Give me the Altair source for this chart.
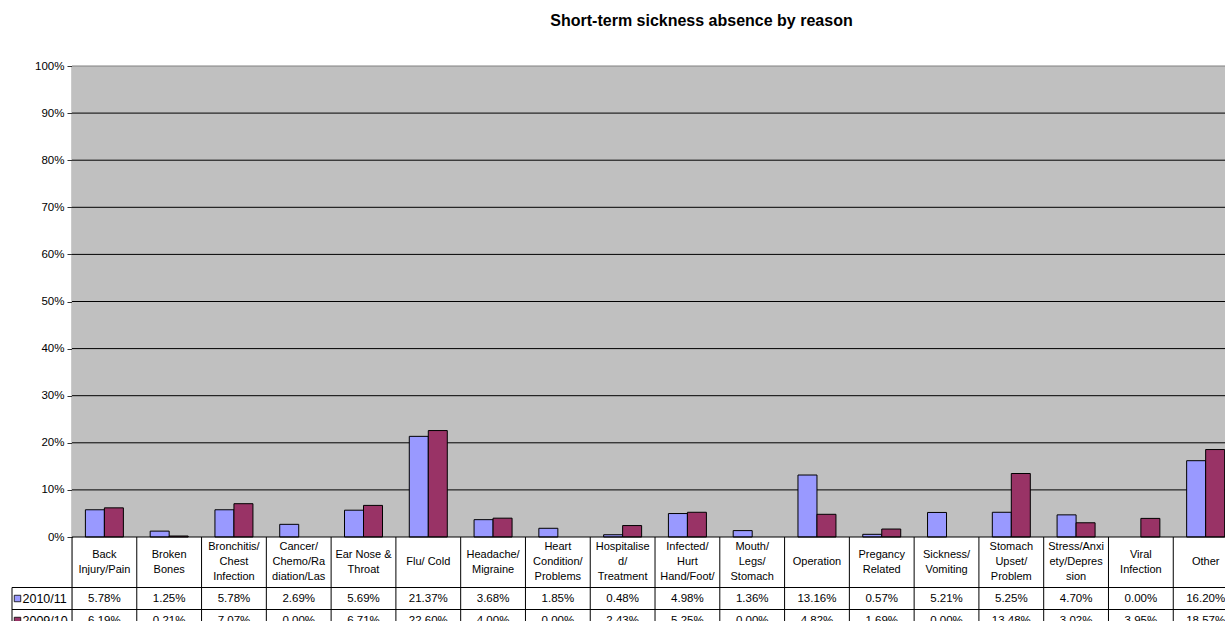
import altair as alt
import pandas as pd

# ---- data -------------------------------------------------------------
categories = [
    "Back\nInjury/Pain",
    "Broken\nBones",
    "Bronchitis/\nChest\nInfection",
    "Cancer/\nChemo/Ra\ndiation/Las",
    "Ear Nose &\nThroat",
    "Flu/ Cold",
    "Headache/\nMigraine",
    "Heart\nCondition/\nProblems",
    "Hospitalise\nd/\nTreatment",
    "Infected/\nHurt\nHand/Foot/",
    "Mouth/\nLegs/\nStomach",
    "Operation",
    "Pregancy\nRelated",
    "Sickness/\nVomiting",
    "Stomach\nUpset/\nProblem",
    "Stress/Anxi\nety/Depres\nsion",
    "Viral\nInfection",
    "Other",
]
series_names = ["2010/11", "2009/10"]
values_2010_11 = [5.78, 1.25, 5.78, 2.69, 5.69, 21.37, 3.68, 1.85, 0.48,
                  4.98, 1.36, 13.16, 0.57, 5.21, 5.25, 4.70, 0.00, 16.20]
values_2009_10 = [6.19, 0.21, 7.07, 0.00, 6.71, 22.60, 4.00, 0.00, 2.43,
                  5.25, 0.00, 4.82, 1.69, 0.00, 13.48, 3.02, 3.95, 18.57]
series_colors = ["#9999FF", "#993366"]
y_ticks = [i / 10 for i in range(11)]

# ---- layout -----------------------------------------------------------
FONT = "Liberation Sans"
PLOT_W = 1153          # visible part of the plot area
STEP = 64.78           # width of one category column
BAR_H = 471            # height of the bar panel
HEAD_H = 50.5          # header row of the data table
ROW_H = 22             # each series row of the data table
TABLE_H = HEAD_H + 2 * ROW_H
LEGEND_X = -60         # left edge of the legend column
LINE_H = 14.8          # line spacing of the wrapped header labels

row_y = {name: HEAD_H + ROW_H * (i + 0.5) for i, name in enumerate(series_names)}

records = []
for name, vals in zip(series_names, [values_2010_11, values_2009_10]):
    for cat, v in zip(categories, vals):
        records.append({"cat": cat, "series": name, "pct": v / 100, "row_y": row_y[name]})
df = pd.DataFrame(records)

# first-line position so that each wrapped header block is centred in its cell
cats_df = pd.DataFrame({
    "cat": categories,
    "head_y": [HEAD_H / 2 - (c.count("\n")) * LINE_H / 2 for c in categories],
})
series_df = pd.DataFrame({"series": series_names, "row_y": [row_y[s] for s in series_names]})
one = pd.DataFrame({"k": [0]})

x_scale = alt.Scale(domain=categories, range=[0, STEP * len(categories)],
                    paddingInner=0, paddingOuter=0)
y_bar = alt.Scale(domain=[0, 1], range=[BAR_H, 0], nice=False)
y_tab = alt.Scale(domain=[0, TABLE_H], range=[BAR_H, BAR_H + TABLE_H], nice=False)
color_scale = alt.Scale(domain=series_names, range=series_colors)

y_axis = alt.Axis(values=y_ticks, format=".0%", grid=False, title=None,
                  domainColor="#333333", domainWidth=1.5, tickColor="#333333",
                  tickSize=5, labelFont=FONT, labelFontSize=11.5, labelColor="black",
                  labelPadding=3)

# ---- bar panel --------------------------------------------------------
background = alt.Chart(one).mark_rect(color="#C0C0C0").encode(
    x=alt.value(0), x2=alt.value("width"),
    y=alt.YDatum(0, type="quantitative", scale=y_bar, axis=y_axis),
    y2=alt.Y2Datum(1),
)

gridlines = alt.Chart(pd.DataFrame({"t": y_ticks[1:-1]})).mark_rule(
    color="black", strokeWidth=1
).encode(
    x=alt.value(0), x2=alt.value("width"),
    y=alt.Y("t:Q", scale=y_bar, axis=y_axis),
)

top_border = alt.Chart(one).mark_rule(color="#808080", strokeWidth=1).encode(
    x=alt.value(0), x2=alt.value("width"),
    y=alt.YDatum(1, type="quantitative", scale=y_bar, axis=y_axis),
)

bars = alt.Chart(df).transform_filter("datum.pct > 0").mark_bar(
    stroke="black", strokeWidth=1
).encode(
    x=alt.X("cat:N", scale=x_scale, axis=None),
    xOffset=alt.XOffset("series:N", scale=alt.Scale(domain=series_names,
                                                    paddingInner=0, paddingOuter=0.705)),
    y=alt.Y("pct:Q", scale=y_bar, axis=y_axis),
    color=alt.Color("series:N", scale=color_scale, legend=None),
)

baseline = alt.Chart(one).mark_rule(color="black", strokeWidth=1).encode(
    x=alt.value(0), x2=alt.value("width"),
    y=alt.YDatum(0, type="quantitative", scale=y_bar, axis=y_axis),
)

bar_panel = alt.layer(background, gridlines, top_border, bars, baseline)

# ---- data table -------------------------------------------------------
col_lines = alt.Chart(cats_df).mark_rule(color="black", strokeWidth=1).encode(
    x=alt.X("cat:N", scale=x_scale, axis=None, bandPosition=0),
    y=alt.YDatum(0, type="quantitative", scale=y_tab, axis=None),
    y2=alt.Y2Datum(TABLE_H),
)

row_lines = alt.Chart(pd.DataFrame({"r": [HEAD_H, HEAD_H + ROW_H]})).mark_rule(
    color="black", strokeWidth=1
).encode(
    x=alt.value(LEGEND_X), x2=alt.value("width"),
    y=alt.Y("r:Q", scale=y_tab, axis=None),
)

legend_border = alt.Chart(one).mark_rule(color="black", strokeWidth=1).encode(
    x=alt.value(LEGEND_X),
    y=alt.YDatum(HEAD_H, type="quantitative", scale=y_tab, axis=None),
    y2=alt.Y2Datum(TABLE_H),
)

headers = alt.Chart(cats_df).mark_text(
    font=FONT, fontSize=11, lineBreak="\n", lineHeight=LINE_H,
    baseline="middle", align="center", color="black"
).encode(
    x=alt.X("cat:N", scale=x_scale, axis=None),
    y=alt.Y("head_y:Q", scale=y_tab, axis=None),
    text="cat:N",
)

cells = alt.Chart(df).mark_text(
    font=FONT, fontSize=11.5, baseline="middle", align="center", color="black"
).encode(
    x=alt.X("cat:N", scale=x_scale, axis=None),
    y=alt.Y("row_y:Q", scale=y_tab, axis=None),
    text=alt.Text("pct:Q", format=".2%"),
)

legend_keys = alt.Chart(series_df).mark_point(
    shape="square", filled=True, size=42, stroke="black", strokeWidth=0.8, opacity=1
).encode(
    x=alt.value(LEGEND_X + 5.5),
    y=alt.Y("row_y:Q", scale=y_tab, axis=None),
    fill=alt.Fill("series:N", scale=color_scale, legend=None),
)

legend_text = alt.Chart(series_df).mark_text(
    font=FONT, fontSize=12.5, baseline="middle", align="left", color="black"
).encode(
    x=alt.value(LEGEND_X + 10.5),
    y=alt.Y("row_y:Q", scale=y_tab, axis=None),
    text="series:N",
)

table_panel = alt.layer(col_lines, row_lines, legend_border, headers, cells,
                        legend_keys, legend_text)

chart = alt.layer(bar_panel, table_panel).resolve_scale(
    y="independent"
).properties(
    width=PLOT_W,
    height=555,
    autosize=alt.AutoSizeParams(type="none"),
    padding={"left": 72, "top": 66, "right": 0, "bottom": 0},
    title=alt.TitleParams(
        "Short-term sickness absence by reason",
        font=FONT, fontSize=16, fontWeight="bold", color="black",
        anchor="middle", frame="group", dx=53, offset=31,
    ),
).configure_view(stroke=None).configure(background="white")

chart.save("out.html", embed_options={"renderer": "svg", "actions": False})
